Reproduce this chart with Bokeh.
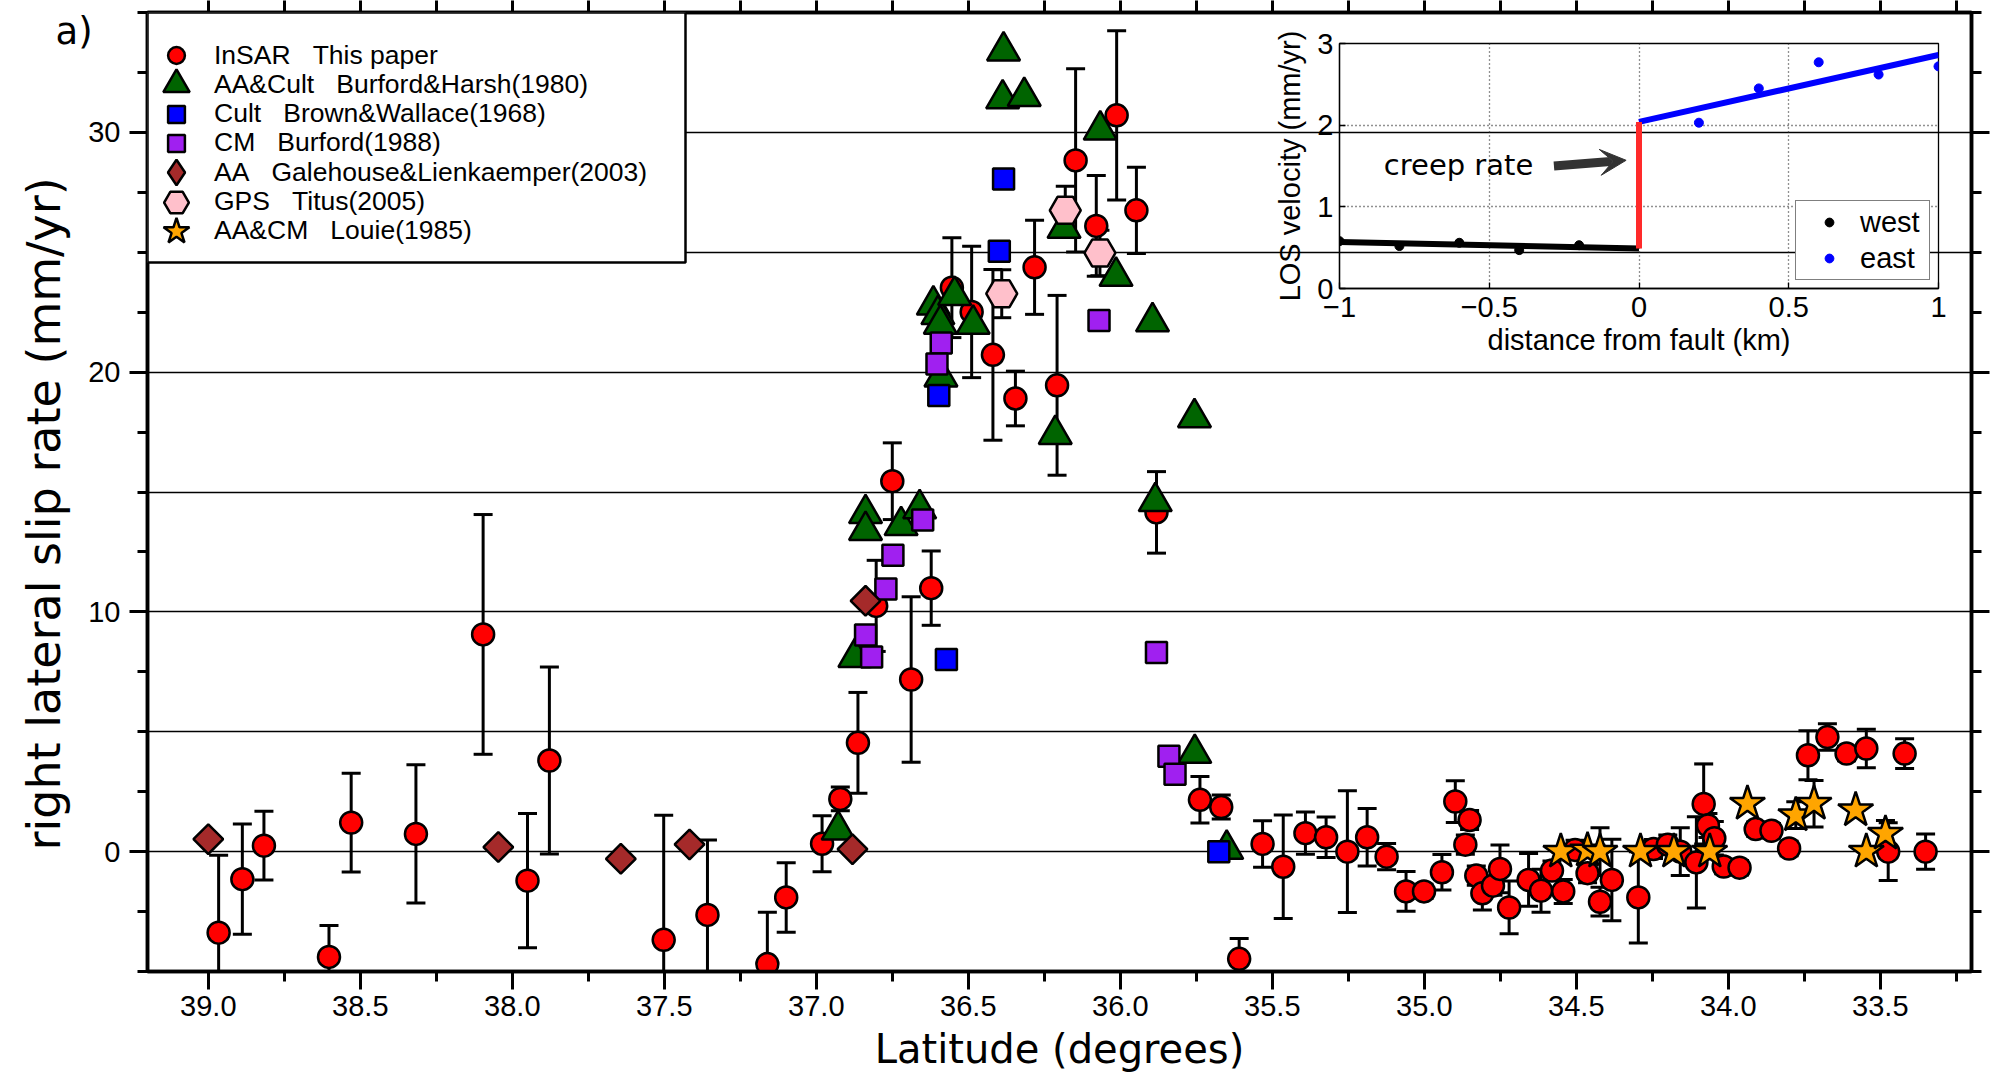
import numpy as np
from bokeh.plotting import figure
from bokeh.models import (Range1d, FixedTicker, LinearAxis, Legend, LegendItem, Label, Arrow,
                          VeeHead, PrintfTickFormatter, BoxAnnotation)
from bokeh.layouts import column
from bokeh.embed import file_html
from bokeh.resources import INLINE

# ---------------- data: main panel ----------------
# InSAR (this paper): latitude, slip rate, 1-sigma error
insar_lat = [38.966, 38.888, 38.817, 38.603, 38.530, 38.317, 38.096, 37.950, 37.878, 37.502,
             37.358, 37.161, 37.099, 36.981, 36.921, 36.863, 36.803, 36.750, 36.688, 36.622,
             36.554, 36.489, 36.419, 36.345, 36.282, 36.208, 36.147, 36.079, 36.012, 35.947,
             35.881, 35.738, 35.668, 35.609, 35.532, 35.464, 35.391, 35.323, 35.253, 35.188,
             35.124, 35.060, 35.001, 34.942, 34.898, 34.851, 34.865, 34.829, 34.809, 34.774,
             34.751, 34.721, 34.657, 34.616, 34.580, 34.543, 34.504, 34.463, 34.422, 34.383,
             34.296, 34.246, 34.199, 34.158, 34.105, 34.081, 34.067, 34.046, 34.015, 33.963,
             33.910, 33.858, 33.800, 33.738, 33.674, 33.611, 33.546, 33.474, 33.420, 33.351]
insar_rate = [-3.38, -1.15, 0.25, -4.39, 1.21, 0.74, 9.06, -1.21, 3.80, -3.68,
              -2.64, -4.69, -1.91, 0.33, 2.20, 4.54, 10.25, 15.45, 7.18, 10.99,
              23.52, 22.51, 20.72, 18.90, 24.37, 19.45, 28.83, 26.10, 30.71, 26.75,
              14.15, 2.16, 1.86, -4.47, 0.32, -0.63, 0.77, 0.60, 0.00, 0.60,
              -0.21, -1.66, -1.66, -0.86, 2.09, 1.32, 0.29, -1.00, -1.74, -1.42,
              -0.72, -2.33, -1.18, -1.63, -0.79, -1.66, 0.07, -0.90, -2.09, -1.18,
              -1.91, 0.11, 0.29, 0.00, -0.45, 1.99, 1.09, 0.56, -0.62, -0.67,
              0.94, 0.87, 0.13, 4.02, 4.78, 4.09, 4.30, 0.00, 4.09, 0.00]
insar_err = [3.23, 2.30, 1.43, 1.31, 2.06, 2.88, 5.00, 2.80, 3.90, 5.20,
             3.13, 2.16, 1.45, 1.17, 0.50, 2.10, 1.90, 1.60, 3.45, 1.55,
             2.08, 2.74, 3.56, 1.14, 1.96, 3.75, 3.82, 2.10, 3.53, 1.80,
             1.70, 0.97, 0.50, 0.85, 0.97, 2.16, 0.88, 0.84, 2.54, 1.20,
             0.55, 0.83, 0.30, 0.74, 0.87, 0.40, 0.40, 0.40, 0.70, 0.40,
             1.00, 1.10, 1.10, 0.90, 0.40, 0.50, 0.40, 0.40, 0.60, 1.70,
             1.90, 0.40, 0.40, 1.00, 1.90, 1.67, 0.50, 0.70, 0.30, 0.30,
             0.30, 0.30, 0.30, 1.02, 0.55, 0.30, 0.80, 1.20, 0.62, 0.73]

# AA&Cult  Burford & Harsh (1980)
bh_lat = [36.384, 36.387, 36.316, 36.066, 36.185, 36.014, 35.894, 35.756, 36.214, 35.885,
          36.615, 36.600, 36.592, 36.545, 36.484, 36.590, 36.838, 36.838, 36.721, 36.660,
          36.873, 36.928, 35.755, 35.650]
bh_rate = [33.4, 31.4, 31.5, 30.1, 26.0, 24.0, 22.1, 18.1, 17.4, 14.6,
           22.8, 22.4, 22.0, 23.2, 22.0, 19.8, 14.1, 13.4, 13.6, 14.3,
           8.1, 0.9, 4.1, 0.1]

# Cult  Brown & Wallace (1968)
bw_lat = [36.384, 36.398, 36.597, 36.572, 35.676]
bw_rate = [28.06, 25.04, 19.02, 8.01, 0.00]

# CM  Burford (1988)
b88_lat = [36.589, 36.603, 36.070, 36.650, 36.748, 36.771, 36.838, 36.818, 35.881, 35.840, 35.820]
b88_rate = [21.21, 20.34, 22.15, 13.83, 12.36, 10.95, 9.04, 8.12, 8.31, 3.98, 3.23]

# AA  Galehouse & Lienkaemper (2003)
gl_lat = [39.000, 38.046, 37.643, 37.417, 36.838, 36.881]
gl_rate = [0.52, 0.19, -0.30, 0.30, 10.46, 0.10]

# GPS  Titus (2005)
ti_lat = [36.390, 36.181, 36.067]
ti_rate = [23.27, 26.75, 24.97]
ti_err = [1.00, 1.00, 0.95]

# AA&CM  Louie (1985)
lo_lat = [34.551, 34.463, 34.422, 34.289, 34.179, 34.061, 33.937, 33.778, 33.718, 33.581, 33.546, 33.483]
lo_rate = [0.00, 0.05, 0.00, 0.00, 0.00, 0.00, 2.00, 1.52, 2.00, 1.73, 0.00, 0.75]
lo_err = [0.00, 0.00, 1.00, 0.00, 0.00, 0.00, 0.00, 0.56, 0.97, 0.00, 0.00, 0.55]

NB = "\u00a0\u00a0\u00a0"
legend_labels = ["InSAR" + NB + "This paper",
                 "AA&Cult" + NB + "Burford&Harsh(1980)",
                 "Cult" + NB + "Brown&Wallace(1968)",
                 "CM" + NB + "Burford(1988)",
                 "AA" + NB + "Galehouse&Lienkaemper(2003)",
                 "GPS" + NB + "Titus(2005)",
                 "AA&CM" + NB + "Louie(1985)"]

x_ticks = [39.0, 38.5, 38.0, 37.5, 37.0, 36.5, 36.0, 35.5, 35.0, 34.5, 34.0, 33.5]
x_minor = [38.75, 38.25, 37.75, 37.25, 36.75, 36.25, 35.75, 35.25, 34.75, 34.25, 33.75, 33.25]
y_ticks = [0, 10, 20, 30]
y_minor = [-5, -2.5, 0, 2.5, 5, 7.5, 10, 12.5, 15, 17.5, 20, 22.5, 25, 27.5, 30, 32.5, 35]
y_grid = [0, 5, 10, 15, 20, 25, 30]

# ---------------- data: inset ----------------
west_dist = [-1.0, -0.8, -0.6, -0.4, -0.2]
west_los = [0.58, 0.52, 0.56, 0.47, 0.53]
east_dist = [0.2, 0.4, 0.6, 0.8, 1.0]
east_los = [2.03, 2.45, 2.77, 2.62, 2.72]
west_fit_dist = [-1.0, 0.0]
west_fit_los = [0.57, 0.49]
east_fit_dist = [0.0, 1.0]
east_fit_los = [2.04, 2.86]
creep_dist = [0.0, 0.0]
creep_los = [0.49, 2.04]
inset_xticks = [-1, -0.5, 0, 0.5, 1]
inset_yticks = [0, 1, 2, 3]
arrow_from = (-0.284, 1.50)
arrow_to = (-0.043, 1.57)
creep_label_pos = (-0.852, 1.51)

TICK_FONT = "Liberation Sans"
LABEL_FONT = "DejaVu Sans"

# ---------------- layout constants (pixels) ----------------
W, H = 1991, 1080
FL, FR, FT, FB = 147, 20, 12, 109          # main frame borders
FRAME_H = H - FT - FB
LEG_W, LEG_H = 538, 250                     # legend box
LEG_ROW0, LEG_STRIDE = 55.0, 29.33          # legend row centres (from canvas top)
LEG_MARK_X, LEG_TEXT_X = 29, 67             # relative to frame left

# ---------------- main figure ----------------
p = figure(width=W, height=H, x_range=Range1d(39.2, 33.2), y_range=Range1d(-5, 35),
           output_backend="svg", toolbar_location=None,
           min_border_left=FL, min_border_right=FR, min_border_top=FT, min_border_bottom=FB,
           background_fill_color="white", border_fill_color="white")
p.outline_line_color = "black"
p.outline_line_width = 3.5
p.xgrid.visible = False
p.ygrid.ticker = FixedTicker(ticks=y_grid)
p.ygrid.grid_line_color = "black"
p.ygrid.grid_line_width = 1.3

xa = p.xaxis[0]
xa.ticker = FixedTicker(ticks=x_ticks, minor_ticks=x_minor)
xa.formatter = PrintfTickFormatter(format="%.1f")
ya = p.yaxis[0]
ya.ticker = FixedTicker(ticks=y_ticks, minor_ticks=y_minor)
for ax in (xa, ya):
    ax.axis_line_width = 3.5
    ax.major_tick_line_width = 3
    ax.minor_tick_line_width = 3
    ax.major_tick_out = 18
    ax.major_tick_in = 0
    ax.minor_tick_out = 10
    ax.minor_tick_in = 0
    ax.major_label_text_font = TICK_FONT
    ax.major_label_text_font_size = "29px"
    ax.major_label_text_color = "black"
    ax.axis_label_text_font = LABEL_FONT
    ax.axis_label_text_font_style = "normal"
    ax.axis_label_text_color = "black"
xa.axis_label = "Latitude (degrees)"
xa.axis_label_text_font_size = "40px"
xa.major_label_standoff = 6
xa.axis_label_standoff = 7
ya.axis_label = "right lateral slip rate (mm/yr)" + NB
ya.axis_label_text_font_size = "46px"
ya.major_label_standoff = 9
ya.axis_label_standoff = 14

top_ax = LinearAxis(ticker=FixedTicker(ticks=x_ticks + x_minor))
right_ax = LinearAxis(ticker=FixedTicker(ticks=y_ticks, minor_ticks=y_minor))
top_ax.major_tick_out = 12
top_ax.minor_tick_out = 0
right_ax.major_tick_out = 18
right_ax.minor_tick_out = 10
for ax in (top_ax, right_ax):
    ax.formatter = PrintfTickFormatter(format="")
    ax.axis_line_width = 3.5
    ax.major_tick_line_width = 3
    ax.minor_tick_line_width = 3
    ax.major_tick_in = 0
    ax.minor_tick_in = 0
    ax.major_label_text_font_size = "1px"
    ax.major_label_standoff = 0
p.add_layout(top_ax, "above")
p.add_layout(right_ax, "right")


def add_errors(lat, rate, err):
    lo = [r - e for r, e in zip(rate, err)]
    hi = [r + e for r, e in zip(rate, err)]
    p.segment(x0=lat, y0=lo, x1=lat, y1=hi, line_color="black", line_width=3)
    p.scatter(x=list(lat) + list(lat), y=lo + hi, marker="dash", size=19,
              line_color="black", line_width=3)


add_errors(insar_lat, insar_rate, insar_err)
add_errors(ti_lat, ti_rate, ti_err)
add_errors(lo_lat, lo_rate, lo_err)

OL = 2.5
style = dict(line_color="black", line_width=OL)
r_insar = p.scatter(insar_lat, insar_rate, marker="circle", size=22, fill_color="#FF0000", **style)
r_bh = p.scatter(bh_lat, bh_rate, marker="triangle", size=33, fill_color="#006400", **style)
r_bw = p.scatter(bw_lat, bw_rate, marker="square", size=21, fill_color="#0000FF", **style)
r_b88 = p.scatter(b88_lat, b88_rate, marker="square", size=21, fill_color="#A020F0", **style)
# Galehouse & Lienkaemper: a diamond key glyph (used by the legend, fully covered on the plot)
r_gl_key = p.scatter(gl_lat, gl_rate, marker="diamond", size=27, fill_color="#A52A2A", **style)
r_gl = p.scatter(gl_lat, gl_rate, marker="square", angle=np.pi / 4, size=21, fill_color="#A52A2A", **style)
r_ti = p.scatter(ti_lat, ti_rate, marker="hex", size=31, fill_color="#FFC0CB", **style)
r_lo = p.scatter(lo_lat, lo_rate, marker="star", size=37, fill_color="#FFA500", **style)

# legend frame
p.add_layout(BoxAnnotation(left=0, right=LEG_W, top=FRAME_H, bottom=FRAME_H - LEG_H,
                           left_units="screen", right_units="screen", top_units="screen",
                           bottom_units="screen", fill_color="white", fill_alpha=1.0,
                           line_color="black", line_width=2.5, line_alpha=1.0))

legend_renderers = [r_insar, r_bh, r_bw, r_b88, r_gl_key, r_ti, r_lo]
legend_glyph_box = [42, 66, 42, 42, 64, 62, 68]   # legend symbol size = 0.4 * box
for i, (lab, rend, g) in enumerate(zip(legend_labels, legend_renderers, legend_glyph_box)):
    yc = LEG_ROW0 + i * LEG_STRIDE
    vy = float(FRAME_H - (yc - FT) - g / 2)
    vx = float(LEG_MARK_X - g / 2)
    leg = Legend(items=[LegendItem(label=lab, renderers=[rend])], location=(vx, vy),
                 margin=0, padding=0, spacing=0, glyph_width=g, glyph_height=g,
                 label_standoff=int(round((LEG_TEXT_X - LEG_MARK_X) - g / 2)),
                 border_line_color=None, background_fill_alpha=0.0,
                 label_text_font=TICK_FONT, label_text_font_size="26.5px", label_text_color="black")
    p.add_layout(leg, "center")

# ---------------- inset figure ----------------
# (figures stacked in a column share left/right borders, so use the main figure's borders)
IL, IR, IT, IB = FL, FR, 30, 80
IFW, IFH = 599, 245
inset = figure(width=IL + IFW + IR, height=IT + IFH + IB, x_range=Range1d(-1, 1), y_range=Range1d(0, 3),
               output_backend="svg", toolbar_location=None,
               min_border_left=IL, min_border_right=IR, min_border_top=IT, min_border_bottom=IB,
               background_fill_alpha=0, border_fill_alpha=0)
inset.outline_line_color = "black"
inset.outline_line_width = 1.3
ix = inset.xaxis[0]
iy = inset.yaxis[0]
ix.ticker = FixedTicker(ticks=inset_xticks)
iy.ticker = FixedTicker(ticks=inset_yticks)
ix.major_label_overrides = {-1: "\u22121", -0.5: "\u22120.5", 0: "0", 0.5: "0.5", 1: "1"}
for ax in (ix, iy):
    ax.axis_line_width = 1.3
    ax.major_tick_in = 6
    ax.major_tick_out = 0
    ax.minor_tick_in = 0
    ax.minor_tick_out = 0
    ax.major_tick_line_width = 1.3
    ax.major_label_text_font = TICK_FONT
    ax.major_label_text_font_size = "29px"
    ax.major_label_text_color = "black"
    ax.axis_label_text_font = TICK_FONT
    ax.axis_label_text_font_size = "29px"
    ax.axis_label_text_font_style = "normal"
    ax.axis_label_text_color = "black"
ix.axis_label = "distance from fault (km)"
iy.axis_label = "LOS velocity (mm/yr)"
ix.major_label_standoff = 8
ix.axis_label_standoff = 4
iy.major_label_standoff = 6
iy.axis_label_standoff = 8
for g in (inset.xgrid[0], inset.ygrid[0]):
    g.grid_line_color = "#222222"
    g.grid_line_dash = "1 3"
    g.grid_line_width = 1.3
inset.xgrid[0].ticker = FixedTicker(ticks=inset_xticks)
inset.ygrid[0].ticker = FixedTicker(ticks=inset_yticks)

inset.line(west_fit_dist, west_fit_los, line_color="black", line_width=6)
inset.line(east_fit_dist, east_fit_los, line_color="#0000FF", line_width=6)
inset.line(creep_dist, creep_los, line_color="#FF2A2A", line_width=6)
r_w = inset.scatter(west_dist, west_los, marker="circle", size=9, fill_color="black", line_color="black")
r_e = inset.scatter(east_dist, east_los, marker="circle", size=9, fill_color="#0000FF", line_color="#0000FF")

inset.add_layout(Arrow(end=VeeHead(size=26, fill_color="#333333", line_color="#333333"),
                       x_start=arrow_from[0], y_start=arrow_from[1],
                       x_end=arrow_to[0], y_end=arrow_to[1],
                       line_color="#333333", line_width=9))
inset.add_layout(Label(x=creep_label_pos[0], y=creep_label_pos[1], text="creep rate",
                       text_font=LABEL_FONT, text_font_size="29px", text_baseline="middle",
                       text_align="left", text_color="black"))

ileg = Legend(items=[LegendItem(label="west", renderers=[r_w]), LegendItem(label="east", renderers=[r_e])],
              location="bottom_right", margin=8, padding=3, spacing=0,
              glyph_width=60, glyph_height=22, label_height=36, label_standoff=1, label_width=66,
              border_line_color="black", border_line_width=1.3,
              background_fill_color="white", background_fill_alpha=1.0,
              label_text_font=TICK_FONT, label_text_font_size="29px", label_text_color="black")
inset.add_layout(ileg, "center")
# inset frame wanted at page x=1339, y=43
inset.styles = {"position": "absolute", "left": f"{1339 - IL}px", "top": f"{43 - IT}px"}

# ---------------- panel tag "a)" ----------------
TAG_W, TAG_H = 60, 60
tag = figure(width=FL + TAG_W + FR, height=TAG_H, output_backend="svg", toolbar_location=None,
             min_border_left=FL, min_border_right=FR, min_border_top=0, min_border_bottom=0,
             x_axis_location=None, y_axis_location=None, outline_line_color=None,
             background_fill_alpha=0, border_fill_alpha=0)
tag.add_layout(Label(x=5, y=TAG_H / 2, x_units="screen", y_units="screen", text="a)",
                     text_font=LABEL_FONT, text_font_size="37px", text_baseline="middle",
                     text_align="left", text_color="black"))
# tag frame wanted at page x=50, y=1
tag.styles = {"position": "absolute", "left": f"{50 - FL}px", "top": "1px"}

layout = column(p, inset, tag)
layout.styles = {"position": "relative"}

open("out.html", "w").write(file_html(layout, INLINE))
